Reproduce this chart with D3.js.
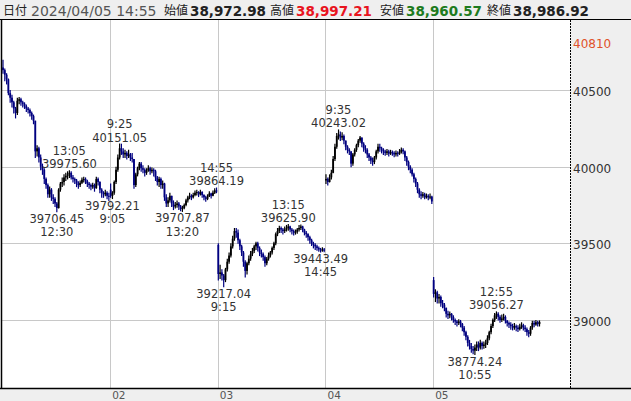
<!DOCTYPE html>
<html><head><meta charset="utf-8">
<script src="https://cdn.jsdelivr.net/npm/d3@7"></script>
<style>html,body{margin:0;padding:0;background:#fff;overflow:hidden}</style>
</head><body><svg id="c" width="631" height="401"></svg>
<script>
// ---- data (5-minute bars, 60 per day) ----
const days = ["01","02","03","04","05"];
const dayOpens = [40647, 39850, 39490, 39910, 39260];
const closes1 = [40630,40600,40570,40480,40450,40420,40380,40350,40430,40440,40420,40410,40395,40380,40370,40350,40330,40300,40100,40120,40060,40000,39980,39920,39880,39820,39850,39800,39790,39760,39730,39850,39890,39900,39930,39940,39950,39960,39930,39920,39910,39890,39880,39895,39915,39920,39905,39890,39880,39870,39880,39860,39920,39900,39850,39830,39820,39830,39810,39803];
const highs1  = [40698,40640,40610,40575,40500,40470,40430,40390,40450,40455,40450,40430,40420,40405,40390,40380,40360,40340,40300,40140,40130,40080,40020,39990,39930,39890,39870,39860,39820,39800,39770,39860,39900,39930,39950,39960,39970,39976,39970,39945,39930,39920,39905,39910,39930,39935,39930,39915,39900,39890,39895,39890,39935,39930,39905,39860,39840,39850,39840,39830];
const lows1   = [40610,40560,40540,40470,40420,40390,40350,40318,40340,40410,40400,40390,40380,40360,40350,40330,40310,40280,40060,40070,40030,39980,39950,39890,39860,39800,39800,39780,39760,39740,39706,39730,39840,39870,39880,39910,39920,39930,39920,39900,39890,39870,39860,39870,39890,39900,39890,39870,39860,39850,39860,39840,39860,39880,39830,39800,39800,39810,39790,39780];
const closes2 = [39810,39830,39900,39980,40060,40120,40100,40080,40090,40070,40080,40060,40050,39880,39950,39990,40020,39990,39980,39960,39975,39990,39970,39980,39970,39930,39900,39920,39880,39890,39800,39760,39780,39810,39760,39740,39750,39760,39740,39725,39730,39750,39780,39800,39810,39800,39815,39830,39835,39820,39835,39815,39800,39790,39805,39825,39810,39830,39845,39839];
const highs2  = [39890,39840,39910,40000,40080,40151,40150,40120,40110,40100,40110,40090,40090,40050,39960,40000,40030,40030,40010,39990,39990,40010,40000,39995,39990,39980,39940,39935,39930,39910,39895,39820,39800,39830,39810,39780,39770,39780,39770,39750,39745,39760,39790,39810,39830,39820,39830,39845,39850,39840,39850,39840,39820,39810,39820,39840,39830,39845,39860,39864];
const lows2   = [39800,39792,39820,39890,39970,40050,40080,40060,40060,40050,40060,40040,40030,39860,39870,39940,39980,39970,39960,39940,39950,39970,39950,39960,39940,39910,39880,39870,39860,39860,39780,39740,39740,39770,39740,39720,39730,39735,39720,39712,39708,39725,39745,39770,39790,39785,39795,39810,39815,39805,39815,39800,39785,39775,39785,39805,39795,39810,39825,39830];
const closes3 = [39300,39310,39290,39260,39330,39380,39420,39480,39530,39580,39570,39520,39480,39440,39380,39320,39370,39400,39430,39450,39480,39500,39470,39440,39430,39410,39370,39400,39420,39440,39470,39500,39560,39580,39600,39590,39580,39590,39600,39610,39590,39580,39570,39575,39590,39600,39610,39590,39570,39560,39540,39520,39500,39490,39480,39470,39460,39455,39460,39452];
const highs3  = [39500,39360,39330,39300,39340,39400,39440,39500,39550,39600,39600,39590,39530,39490,39450,39390,39380,39420,39450,39470,39490,39510,39510,39480,39460,39440,39420,39410,39440,39450,39480,39510,39570,39600,39615,39610,39600,39610,39620,39626,39615,39600,39590,39590,39600,39620,39622,39615,39595,39580,39565,39550,39530,39510,39500,39490,39480,39470,39475,39470];
const lows3   = [39260,39270,39260,39217,39250,39320,39370,39410,39470,39520,39540,39500,39460,39420,39350,39280,39300,39360,39390,39420,39440,39460,39450,39420,39410,39390,39350,39360,39390,39410,39430,39460,39490,39550,39570,39570,39560,39570,39580,39585,39575,39560,39555,39560,39565,39580,39590,39575,39555,39540,39520,39500,39485,39470,39460,39455,39448,39443,39448,39445];
const closes4 = [39920,39900,39930,39960,40050,40130,40200,40210,40190,40200,40170,40130,40110,40100,40020,40080,40110,40140,40170,40190,40150,40120,40110,40080,40060,40040,40030,40060,40100,40130,40120,40110,40100,40090,40100,40085,40095,40090,40080,40090,40085,40095,40110,40100,40060,40030,40000,39980,39950,39920,39890,39850,39820,39810,39820,39800,39810,39800,39805,39773];
const highs4  = [39950,39930,39950,39980,40070,40150,40220,40243,40230,40225,40210,40170,40140,40120,40100,40090,40120,40150,40180,40200,40190,40160,40140,40120,40090,40070,40060,40070,40110,40150,40150,40130,40120,40110,40115,40110,40110,40105,40100,40105,40100,40115,40125,40120,40105,40070,40040,40010,39990,39960,39930,39900,39860,39840,39835,39830,39825,39820,39825,39810];
const lows4   = [39890,39880,39900,39920,39960,40040,40120,40180,40170,40175,40150,40110,40090,40080,40000,40010,40070,40100,40130,40160,40130,40100,40090,40060,40040,40020,40010,40020,40050,40090,40100,40090,40080,40075,40080,40070,40080,40075,40065,40070,40070,40080,40090,40085,40040,40010,39980,39960,39940,39900,39870,39830,39800,39790,39800,39790,39795,39785,39790,39760];
const closes5 = [39170,39180,39140,39150,39110,39100,39080,39040,39030,39040,39020,39000,38990,38980,38990,38975,38950,38920,38890,38850,38830,38810,38800,38820,38840,38820,38850,38830,38840,38850,38880,38920,38960,39000,39030,39040,39020,39000,39010,39020,38995,38980,38970,38960,38950,38960,38950,38940,38955,38965,38950,38940,38920,38910,38950,38980,38970,38985,38973,38986.92];
const highs5  = [39280,39200,39190,39170,39160,39130,39110,39080,39060,39055,39045,39030,39010,39000,39005,39000,38980,38960,38930,38900,38870,38850,38830,38840,38860,38860,38870,38860,38860,38870,38900,38930,38975,39010,39045,39056,39050,39030,39035,39040,39030,39000,38990,38985,38975,38980,38970,38965,38975,38985,38975,38965,38950,38935,38960,38995,38995,39000,38995,38997.21];
const lows5   = [39150,39120,39110,39110,39090,39080,39060,39020,39010,39015,39000,38985,38970,38960,38970,38955,38930,38900,38870,38830,38810,38790,38780,38774,38800,38800,38810,38810,38815,38820,38840,38870,38910,38950,38990,39010,39000,38985,38990,39000,38980,38960,38950,38940,38935,38940,38930,38925,38935,38945,38935,38925,38900,38890,38900,38940,38955,38965,38960,38960.57];

const yTicks = [39000, 39500, 40000, 40500];
const yTopLabel = 40810;
const dayLabels = ["02","03","04","05"];
const dayStartBars = [60, 120, 180, 240];

const annoTimes  = ["12:30","13:05","9:05","9:25","13:20","14:55","9:15","13:15","14:45","9:35","10:55","12:55"];
const annoValues = [39706.45,39975.60,39792.21,40151.05,39707.87,39864.19,39217.04,39625.90,39443.49,40243.02,38774.24,39056.27];
const annoBars   = [30,37,61,65,100,119,123,159,177,187,263,275];
const annoKinds  = ["low","high","low","high","low","high","low","high","low","high","low","high"];

const hdrDate = "2024/04/05 14:55";
const hdrLabels = ["始値","高値","安値","終値"];
const hdrValues = ["38,972.98","38,997.21","38,960.57","38,986.92"];

// ---- build bars ----
const closesAll = [closes1,closes2,closes3,closes4,closes5];
const highsAll = [highs1,highs2,highs3,highs4,highs5];
const lowsAll = [lows1,lows2,lows3,lows4,lows5];
const bars = [];
closesAll.forEach((cs, d) => {
  cs.forEach((c, j) => {
    const o = j === 0 ? dayOpens[d] : cs[j-1];
    bars.push({i: d*60 + j, o, h: highsAll[d][j], l: lowsAll[d][j], c});
  });
});

const svg = d3.select("#c");
const W = 631, H = 401;
const L = 1, T = 20, R = 570, B = 388;
const x = d3.scaleLinear().domain([0, 316]).range([3, 570]);
const y = d3.scaleLinear().domain([38556, 40957]).range([B, T]);

// header
svg.append("rect").attr("x",0).attr("y",0).attr("width",W).attr("height",T).attr("fill","#efefef");
// right panel and bottom panel
svg.append("rect").attr("x",R).attr("y",T).attr("width",W-R).attr("height",B-T).attr("fill","#efefef");
svg.append("rect").attr("x",0).attr("y",B).attr("width",W).attr("height",H-B).attr("fill","#efefef");

// gridlines
const g = svg.append("g");
g.selectAll("line.h").data(yTicks).join("line")
  .attr("x1",L).attr("x2",R).attr("y1",d=>Math.round(y(d))+0.5).attr("y2",d=>Math.round(y(d))+0.5)
  .attr("stroke","#c8c8c8");
g.selectAll("line.v").data(dayStartBars).join("line")
  .attr("x1",d=>Math.round(x(d)-0.5)+0.5).attr("x2",d=>Math.round(x(d)-0.5)+0.5).attr("y1",T).attr("y2",B)
  .attr("stroke","#c8c8c8");

// bars
const up = "#000000", down = "#000080";
const bg = svg.append("g");
bars.forEach(b => {
  const col = b.c >= b.o ? up : down;
  const hi = Math.max(b.h, b.o, b.c), lo = Math.min(b.l, b.o, b.c);
  const cx = x(b.i);
  bg.append("line").attr("x1",cx).attr("x2",cx).attr("y1",y(hi)).attr("y2",y(lo)+0.5)
    .attr("stroke",col).attr("stroke-width",1.2);
  const top = y(Math.max(b.o,b.c)), bot = y(Math.min(b.o,b.c));
  bg.append("rect").attr("x",cx-0.9).attr("y",top).attr("width",1.8).attr("height",Math.max(1,bot-top))
    .attr("fill",col);
});

// borders
svg.append("line").attr("x1",0).attr("x2",W).attr("y1",T-0.5).attr("y2",T-0.5).attr("stroke","#000");
svg.append("line").attr("x1",0).attr("x2",W).attr("y1",B+0.5).attr("y2",B+0.5).attr("stroke","#000").attr("stroke-width",1.5);
svg.append("line").attr("x1",L+0.5).attr("x2",L+0.5).attr("y1",T).attr("y2",B).attr("stroke","#000").attr("stroke-width",1.5);
svg.append("line").attr("x1",R+0.5).attr("x2",R+0.5).attr("y1",T).attr("y2",B).attr("stroke","#000").attr("stroke-dasharray","2,1");

// y axis labels
const fnt = "'DejaVu Sans', Verdana, sans-serif";
svg.selectAll("text.yl").data(yTicks).join("text")
  .attr("x",573).attr("y",d=>y(d)+6).attr("font-family",fnt).attr("font-size",12).attr("fill","#333").text(d=>d);
svg.append("text").attr("x",573).attr("y",y(yTopLabel)+5).attr("font-family",fnt).attr("font-size",12)
  .attr("fill","#e0522a").text(yTopLabel);

// x axis labels
svg.selectAll("text.xl").data(dayLabels).join("text")
  .attr("x",(d,i)=>x(dayStartBars[i])+1.5).attr("y",399).attr("font-family",fnt).attr("font-size",10.5)
  .attr("fill","#555").text(d=>d);

// annotations (two lines each)
const ag = svg.append("g").attr("font-family",fnt).attr("font-size",11.5).attr("fill","#333").attr("text-anchor","middle");
annoTimes.forEach((t, k) => {
  const px = x(annoBars[k]), py = y(annoValues[k]);
  const vs = annoValues[k].toFixed(2);
  if (annoKinds[k] === "high") {
    ag.append("text").attr("x",px).attr("y",py-15.5).text(t);
    ag.append("text").attr("x",px).attr("y",py-2).text(vs);
  } else {
    ag.append("text").attr("x",px).attr("y",py+11).text(vs);
    ag.append("text").attr("x",px).attr("y",py+24.5).text(t);
  }
});

// header texts
const jf = "'Noto Sans CJK JP', sans-serif";
svg.append("text").attr("x",3).attr("y",15).attr("font-family",jf).attr("font-size",12).attr("fill","#222").text("日付");
svg.append("text").attr("x",31).attr("y",16).attr("font-family",fnt).attr("font-size",14).attr("fill","#555").text(hdrDate);
const hdrX = [164, 270, 380, 487];
const hdrColors = ["#222","#e8141e","#1e7b1e","#222"];
hdrLabels.forEach((lb, k) => {
  svg.append("text").attr("x",hdrX[k]).attr("y",15).attr("font-family",jf).attr("font-size",12).attr("fill","#222").text(lb);
  svg.append("text").attr("x",hdrX[k]+26).attr("y",16).attr("font-family",fnt).attr("font-size",13.5)
    .attr("font-weight","bold").attr("fill",hdrColors[k]).text(hdrValues[k]);
});
</script>
</body></html>
